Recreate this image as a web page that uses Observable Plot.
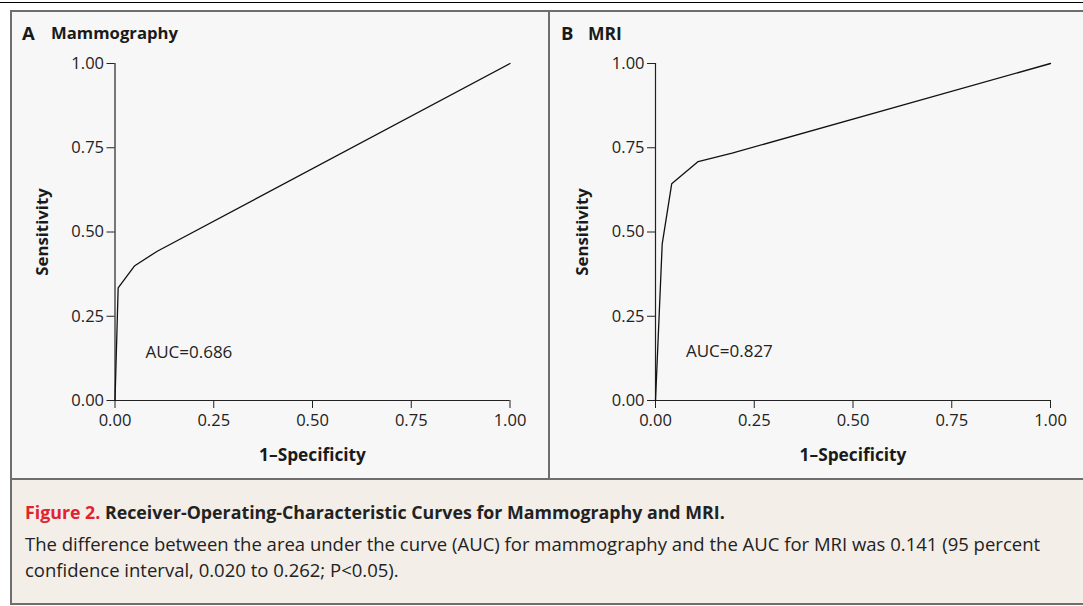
<!DOCTYPE html>
<html>
<head>
<meta charset="utf-8">
<script src="https://cdn.jsdelivr.net/npm/d3@7"></script>
<script src="https://cdn.jsdelivr.net/npm/@observablehq/plot@0.6"></script>
<style>
  html, body { margin: 0; padding: 0; background: #ffffff; }
  body { width: 1083px; height: 606px; position: relative; overflow: hidden; font-family: "Open Sans", "Noto Sans", sans-serif; }
  .abs { position: absolute; }
  .ptitle { font-weight: 700; color: #1a1a1a; white-space: nowrap; line-height: 22px; }
  .cap { color: #222; white-space: nowrap; line-height: 22px; }
</style>
</head>
<body>
<div class="abs" style="left:0;top:2px;width:1083px;height:1px;background:#000;"></div>
<div class="abs" style="left:10px;top:10px;width:1073px;height:468px;background:#f7f7f7;border-top:2px solid #6e6e6e;border-left:2px solid #6e6e6e;"></div>
<div class="abs" style="left:548px;top:12px;width:2px;height:468px;background:#6e6e6e;"></div>
<div class="abs" style="left:10px;top:478px;width:1073px;height:123px;background:#f3eee8;border-top:2px solid #6e6e6e;border-left:2px solid #6e6e6e;border-bottom:2px solid #6e6e6e;"></div>

<div class="abs ptitle" style="left:22px;top:22px;font-size:18.5px;">A</div>
<div class="abs ptitle" style="left:51px;top:22px;font-size:16.7px;">Mammography</div>
<div class="abs ptitle" style="left:561px;top:22px;font-size:18.5px;">B</div>
<div class="abs ptitle" style="left:588px;top:22px;font-size:17.5px;">MRI</div>

<div id="plotA" class="abs" style="left:11px;top:12px;"></div>
<div id="plotB" class="abs" style="left:551px;top:12px;"></div>

<div class="abs cap" style="left:25px;top:501px;font-size:17.8px;font-weight:700;"><span style="color:#e3222f;">Figure 2.</span> Receiver-Operating-Characteristic Curves for Mammography and MRI.</div>
<div class="abs cap" style="left:25px;top:533px;font-size:18.5px;">The difference between the area under the curve (AUC) for mammography and the AUC for MRI was 0.141 (95 percent</div>
<div class="abs cap" style="left:25px;top:559px;font-size:18.5px;">confidence interval, 0.020 to 0.262; P&lt;0.05).</div>

<script>
// Data
const mammoFPR  = [0, 0.008, 0.05, 0.107, 1];
const mammoSens = [0, 0.334, 0.40, 0.443, 1];
const mriFPR    = [0, 0.017, 0.041, 0.108, 0.194, 1];
const mriSens   = [0, 0.465, 0.643, 0.709, 0.734, 1];
const tickValues = [0, 0.25, 0.5, 0.75, 1];
const tickLabels = ["0.00", "0.25", "0.50", "0.75", "1.00"];
const aucLabels = ["AUC=0.686", "AUC=0.827"];
const xLabel = "1\u2013Specificity";
const yLabel = "Sensitivity";

function rocPlot(fpr, sens, auc, opts) {
  const data = fpr.map((f, i) => ({fpr: f, sens: sens[i]}));
  const fmt = (d) => tickLabels[tickValues.indexOf(d)];
  return Plot.plot({
    width: opts.width,
    height: 466,
    marginLeft: opts.marginLeft,
    marginRight: opts.marginRight,
    marginTop: 51,
    marginBottom: 78,
    style: {background: "transparent", fontFamily: "'Open Sans', 'Noto Sans', sans-serif", fontSize: "16.5px", color: "#222", overflow: "visible"},
    x: {domain: [0, 1], ticks: tickValues, tickFormat: fmt, tickSize: 8, tickPadding: 6, label: null},
    y: {domain: [0, 1], ticks: tickValues, tickFormat: fmt, tickSize: 8, tickPadding: 3, label: null},
    marks: [
      Plot.ruleX([0], {y1: 0, y2: 1, stroke: "#222", strokeWidth: 1.2}),
      Plot.ruleY([0], {x1: 0, x2: 1, stroke: "#222", strokeWidth: 1.2}),
      Plot.line(data, {x: "fpr", y: "sens", stroke: "#111", strokeWidth: 1.3}),
      Plot.text([auc], {x: 0.077, y: opts.aucY, text: d => d, textAnchor: "start", lineAnchor: "middle", fontSize: 17, fill: "#222"}),
      Plot.text([xLabel], {frameAnchor: "bottom", dy: 55, text: d => d, textAnchor: "middle", lineAnchor: "middle", fontWeight: "bold", fontSize: 17.3, fill: "#1a1a1a"}),
      Plot.text([yLabel], {frameAnchor: "left", dx: -72.5, rotate: -90, text: d => d, textAnchor: "middle", lineAnchor: "middle", fontWeight: "bold", fontSize: 16.8, fill: "#1a1a1a"})
    ]
  });
}

document.getElementById("plotA").appendChild(rocPlot(mammoFPR, mammoSens, aucLabels[0], {width: 537, marginLeft: 103.5, marginRight: 38.5, aucY: 0.142}));
document.getElementById("plotB").appendChild(rocPlot(mriFPR, mriSens, aucLabels[1], {width: 532, marginLeft: 104, marginRight: 33, aucY: 0.146}));
</script>
</body>
</html>
